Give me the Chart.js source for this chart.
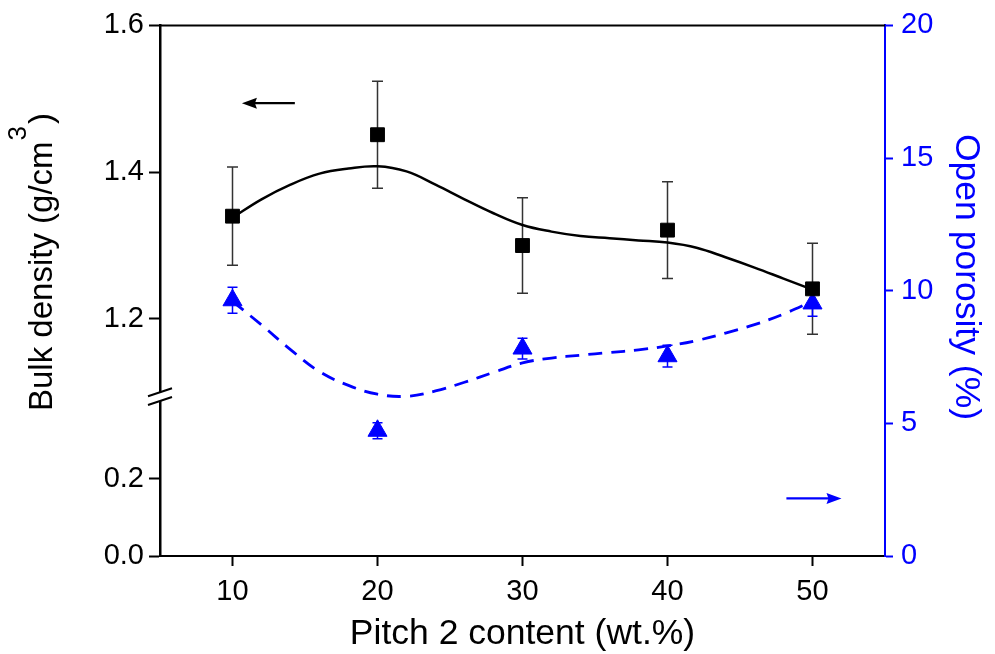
<!DOCTYPE html>
<html><head><meta charset="utf-8">
<script src="https://cdn.jsdelivr.net/npm/chart.js@4.4.0/dist/chart.umd.min.js"></script>
<style>html,body{margin:0;padding:0;background:#fff;overflow:hidden}</style>
</head><body>
<canvas id="c" width="995" height="654"></canvas>
<script>
// ---------- data ----------
const CONTENT = [10, 20, 30, 40, 50];
const DENSITY = [1.340, 1.451, 1.300, 1.321, 1.241];
const DENSITY_ERR = [0.067, 0.073, 0.065, 0.066, 0.062];
const POROSITY = [9.64, 4.72, 7.82, 7.53, 9.52];
const POROSITY_ERR = [0.49, 0.30, 0.39, 0.41, 0.48];
const FIT_X = [10, 12, 14, 16, 18, 20, 22, 24, 26, 28, 30, 32, 34, 36, 38, 40, 42, 44, 46, 48, 50];
const DENSITY_FIT = [1.338, 1.363, 1.383, 1.398, 1.405, 1.408, 1.401, 1.383, 1.363, 1.344, 1.328, 1.319, 1.313, 1.310, 1.307, 1.304, 1.297, 1.284, 1.270, 1.255, 1.240];
const POROSITY_FIT = [9.60, 8.71, 7.78, 6.95, 6.43, 6.10, 6.02, 6.22, 6.55, 6.92, 7.28, 7.46, 7.57, 7.67, 7.77, 7.92, 8.12, 8.40, 8.72, 9.12, 9.60];
const X_TICKS = [10, 20, 30, 40, 50];
const DENSITY_TICKS = [0.0, 0.2, 1.2, 1.4, 1.6];
const POROSITY_TICKS = [0, 5, 10, 15, 20];
const AXIS_BREAK = {low: 0.4, high: 1.1};

const FONT = '"Liberation Sans", Arial, sans-serif';
const BLUE = '#0000ff';
const TICK_SIZE = 29, TITLE_SIZE = 35.5, LEFT_TITLE_SIZE = 33;

// ---------- broken (two-segment) linear scale ----------
const Lin = Chart.LinearScale || Chart.registry.getScale('linear');
const LOW_FRAC = 0.292, HIGH_FRAC = 0.3085;
class BrokenScale extends Lin {
  static id = 'brokenLinear';
  static defaults = {};
  buildTicks() { return DENSITY_TICKS.map(v => ({value: v})); }
  toDec(v) {
    const b = AXIS_BREAK;
    if (v <= b.low) return (v - this.min) / (b.low - this.min) * LOW_FRAC;
    if (v >= b.high) return HIGH_FRAC + (v - b.high) / (this.max - b.high) * (1 - HIGH_FRAC);
    return LOW_FRAC + (v - b.low) / (b.high - b.low) * (HIGH_FRAC - LOW_FRAC);
  }
  getPixelForValue(v) { return this.getPixelForDecimal(this.toDec(v)); }
  getValueForPixel(p) {
    const d = this.getDecimalForPixel(p), b = AXIS_BREAK;
    if (d <= LOW_FRAC) return this.min + d / LOW_FRAC * (b.low - this.min);
    if (d >= HIGH_FRAC) return b.high + (d - HIGH_FRAC) / (1 - HIGH_FRAC) * (this.max - b.high);
    return b.low + (d - LOW_FRAC) / (HIGH_FRAC - LOW_FRAC) * (b.high - b.low);
  }
}
Chart.register(BrokenScale);

// ---------- plugins ----------
const frameAndBreak = {
  id: 'frameAndBreak',
  afterDraw(chart) {
    const {ctx, chartArea: a} = chart;
    const ys = chart.scales.y;
    ctx.save();
    ctx.strokeStyle = '#000'; ctx.lineWidth = 2;
    ctx.beginPath(); ctx.moveTo(a.left, a.top); ctx.lineTo(a.right, a.top); ctx.stroke();
    const yA = ys.getPixelForValue(AXIS_BREAK.high), yB = ys.getPixelForValue(AXIS_BREAK.low);
    ctx.fillStyle = '#fff';
    ctx.fillRect(a.left - 3, yA, 6, yB - yA);
    ctx.lineWidth = 2;
    ctx.beginPath();
    ctx.moveTo(a.left - 12, yA + 4); ctx.lineTo(a.left + 12, yA - 4);
    ctx.moveTo(a.left - 12, yB + 4); ctx.lineTo(a.left + 12, yB - 4);
    ctx.stroke();
    ctx.restore();
  }
};

const errorBars = {
  id: 'errorBars',
  beforeDatasetsDraw(chart) {
    const {ctx} = chart;
    const xs = chart.scales.x, ys = chart.scales.y, y2 = chart.scales.y2;
    ctx.save();
    const draw = (vals, errs, scale, color, cap) => {
      ctx.strokeStyle = color; ctx.lineWidth = 1.5;
      vals.forEach((v, i) => {
        const x = xs.getPixelForValue(CONTENT[i]);
        const t = scale.getPixelForValue(v + errs[i]), b = scale.getPixelForValue(v - errs[i]);
        ctx.beginPath();
        ctx.moveTo(x, t); ctx.lineTo(x, b);
        ctx.moveTo(x - cap, t); ctx.lineTo(x + cap, t);
        ctx.moveTo(x - cap, b); ctx.lineTo(x + cap, b);
        ctx.stroke();
      });
    };
    draw(DENSITY, DENSITY_ERR, ys, '#333', 5.5);
    draw(POROSITY, POROSITY_ERR, y2, BLUE, 5);
    ctx.restore();
  }
};

const ARROWS = [
  {from: 14.3, to: 10.65, level: 1.494, axis: 'y', color: '#000'},
  {from: 48.2, to: 52.0, level: 2.17, axis: 'y2', color: BLUE}
];
const arrows = {
  id: 'arrows',
  afterDatasetsDraw(chart) {
    const {ctx} = chart;
    const xs = chart.scales.x;
    ctx.save();
    ARROWS.forEach(ar => {
      const s = chart.scales[ar.axis];
      const x1 = xs.getPixelForValue(ar.from), x2 = xs.getPixelForValue(ar.to), y = s.getPixelForValue(ar.level);
      const dir = Math.sign(x2 - x1);
      ctx.strokeStyle = ar.color; ctx.fillStyle = ar.color; ctx.lineWidth = 2.2;
      ctx.beginPath(); ctx.moveTo(x1, y); ctx.lineTo(x2 - dir * 10, y); ctx.stroke();
      ctx.beginPath(); ctx.moveTo(x2, y); ctx.lineTo(x2 - dir * 15, y - 5.5); ctx.lineTo(x2 - dir * 13, y); ctx.lineTo(x2 - dir * 15, y + 5.5); ctx.closePath(); ctx.fill();
    });
    ctx.restore();
  }
};

const yTitles = {
  id: 'yTitles',
  afterDraw(chart) {
    const {ctx} = chart;
    ctx.save();
    ctx.textBaseline = 'middle'; ctx.textAlign = 'left';
    // left title
    ctx.fillStyle = '#000';
    ctx.translate(43, 411); ctx.rotate(-Math.PI / 2);
    ctx.font = `${LEFT_TITLE_SIZE}px ${FONT}`;
    const main = 'Bulk density (g/cm';
    ctx.fillText(main, 0, 0);
    let w = ctx.measureText(main).width;
    ctx.font = `26px ${FONT}`;
    ctx.fillText('3', w + 1, -24);
    w += ctx.measureText('3').width + 3;
    ctx.font = `${LEFT_TITLE_SIZE}px ${FONT}`;
    ctx.fillText(')', w, 0);
    ctx.restore();
    // right title
    ctx.save();
    ctx.fillStyle = BLUE; ctx.textBaseline = 'middle'; ctx.textAlign = 'center';
    ctx.translate(966, 277); ctx.rotate(Math.PI / 2);
    ctx.font = `${TITLE_SIZE}px ${FONT}`;
    ctx.fillText('Open porosity (%)', 0, 0);
    ctx.restore();
  }
};

const pts = (xs, ys) => xs.map((x, i) => ({x, y: ys[i]}));

new Chart(document.getElementById('c'), {
  type: 'line',
  data: {
    datasets: [
      {label: 'Bulk density', data: pts(CONTENT, DENSITY), yAxisID: 'y', showLine: false,
       pointStyle: 'rect', pointRadius: 9.8, backgroundColor: '#000', borderColor: '#000', pointBorderWidth: 1, order: 0},
      {label: 'Open porosity', data: pts(CONTENT, POROSITY), yAxisID: 'y2', showLine: false,
       pointStyle: 'triangle', pointRadius: 11, backgroundColor: BLUE, borderColor: BLUE, pointBorderWidth: 1, order: 0},
      {label: 'Density fit', data: pts(FIT_X, DENSITY_FIT), yAxisID: 'y', pointRadius: 0,
       borderColor: '#000', borderWidth: 2.5, tension: 0.4, fill: false, order: 1},
      {label: 'Porosity fit', data: pts(FIT_X, POROSITY_FIT), yAxisID: 'y2', pointRadius: 0,
       borderColor: BLUE, borderWidth: 2.8, borderDash: [14, 9], tension: 0.4, fill: false, order: 1}
    ]
  },
  options: {
    responsive: false, animation: false, devicePixelRatio: 1,
    layout: {padding: {top: 24, left: 0, right: 0, bottom: 0}},
    plugins: {legend: {display: false}, tooltip: {enabled: false}},
    scales: {
      x: {
        type: 'linear', position: 'bottom', min: 5, max: 55,
        afterBuildTicks: s => { s.ticks = X_TICKS.map(v => ({value: v})); },
        afterFit: s => { s.height = 98; },
        grid: {display: true, drawOnChartArea: false, drawTicks: true, tickLength: 10, tickWidth: 2, tickColor: '#000'},
        border: {display: true, color: '#000', width: 2},
        ticks: {color: '#000', font: {family: FONT, size: TICK_SIZE}, padding: 9, maxRotation: 0, autoSkip: false},
        title: {display: true, text: 'Pitch 2 content (wt.%)', color: '#000', font: {family: FONT, size: TITLE_SIZE, lineHeight: 1}, padding: {top: 0, bottom: 2}}
      },
      y: {
        type: 'brokenLinear', position: 'left', min: 0, max: 1.6,
        afterFit: s => { s.width = 160; },
        grid: {display: true, drawOnChartArea: false, drawTicks: true, tickLength: 11, tickWidth: 2, tickColor: '#000'},
        border: {display: true, color: '#000', width: 2.5},
        ticks: {color: '#000', font: {family: FONT, size: TICK_SIZE}, padding: 5, callback: v => Number(v).toFixed(1), autoSkip: false}
      },
      y2: {
        type: 'linear', position: 'right', min: 0, max: 20,
        afterBuildTicks: s => { s.ticks = POROSITY_TICKS.map(v => ({value: v})); },
        afterFit: s => { s.width = 110; },
        grid: {display: true, drawOnChartArea: false, drawTicks: true, tickLength: 8, tickWidth: 2, tickColor: BLUE},
        border: {display: true, color: BLUE, width: 2},
        ticks: {color: BLUE, font: {family: FONT, size: TICK_SIZE}, padding: 8, autoSkip: false}
      }
    }
  },
  plugins: [errorBars, arrows, frameAndBreak, yTitles]
});
</script>
</body></html>
